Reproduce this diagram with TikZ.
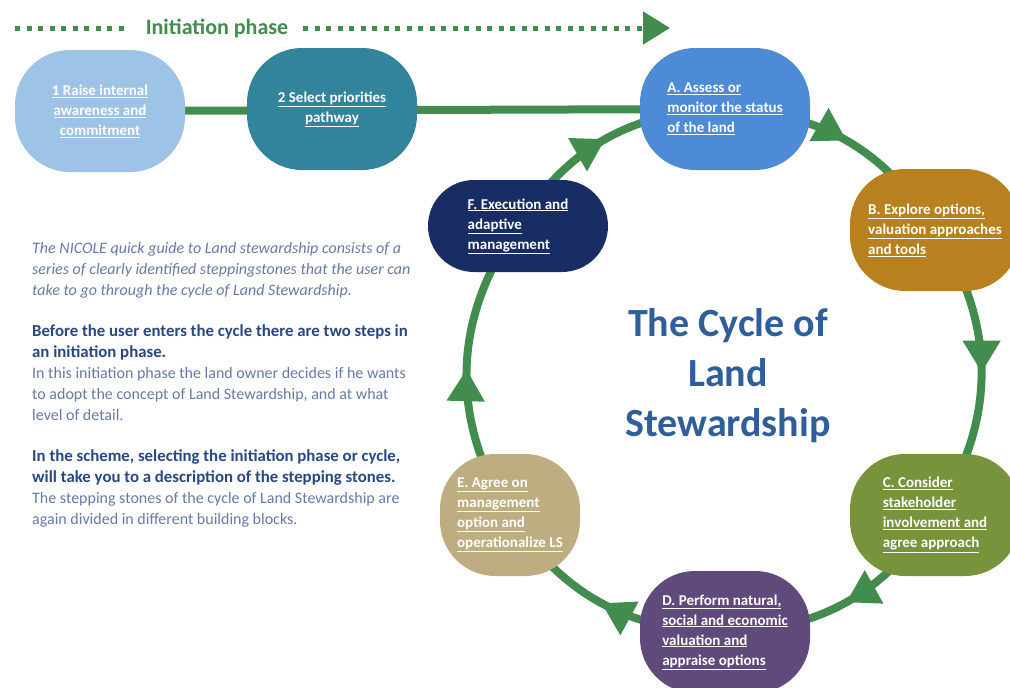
\documentclass[tikz,border=0pt]{standalone}
\usepackage{fontspec}
\setmainfont{Carlito}
\usetikzlibrary{positioning,arrows.meta,decorations.markings,backgrounds}

\definecolor{cyclegreen}{RGB}{66,140,78}
\definecolor{stoneone}{RGB}{157,195,230}
\definecolor{stonetwo}{RGB}{49,132,155}
\definecolor{stoneA}{RGB}{77,139,214}
\definecolor{stoneB}{RGB}{184,128,30}
\definecolor{stoneC}{RGB}{119,147,60}
\definecolor{stoneD}{RGB}{96,73,123}
\definecolor{stoneE}{RGB}{190,173,128}
\definecolor{stoneF}{RGB}{23,45,100}
\definecolor{titleblue}{RGB}{47,95,155}
\definecolor{guidegray}{RGB}{105,122,162}
\definecolor{guideblue}{RGB}{40,72,130}

\newcommand{\lnk}[1]{\underline{#1}}

\tikzset{
  stone/.style={rounded corners=55pt, minimum width=170pt, minimum height=122pt,
                inner sep=0pt, text=white, align=left,
                font=\fontsize{15}{20}\selectfont\bfseries},
  ring/.style={draw=cyclegreen, line width=8pt, postaction={decorate},
               decoration={markings, mark=at position 0.5 with
               {\arrow{Triangle[length=32pt,width=36pt]}}}},
  link/.style={draw=cyclegreen, line width=8pt},
  dots/.style={draw=cyclegreen, line width=5pt, dash pattern=on 5pt off 6.5pt}
}

\begin{document}
\begin{tikzpicture}[x=1pt,y=1pt]
  \clip (0,0) rectangle (1010,-688);

  \coordinate (dotsL) at (15,-28);
  \coordinate (dotsR) at (670,-28);
  \node[text=cyclegreen, inner sep=0pt, font=\fontsize{22}{24}\selectfont\bfseries] (phase) at (217,-28) {Initiation phase};
  \draw[dots] (dotsL) -- ([xshift=-20pt]phase.west);
  \draw[dots, -{Triangle[length=27pt,width=32pt,fill=cyclegreen]}] ([xshift=15pt]phase.east) -- (dotsR);

  \node[stone, fill=stoneone, align=center] (n1) at (100,-111) {\lnk{1 Raise internal}\\ \lnk{awareness and}\\ \lnk{commitment}};
  \node[stone, fill=stonetwo, align=center] (n2) at (332,-109) {\lnk{2 Select priorities}\\ \lnk{pathway}};

  \node[stone, fill=stoneA] (nA) at (725,-109) {\lnk{A. Assess or}\\ \lnk{monitor the status}\\ \lnk{of the land}};
  \node[stone, fill=stoneB] (nB) at (935,-230) {\lnk{B. Explore options,}\\ \lnk{valuation approaches}\\ \lnk{and tools}};
  \node[stone, fill=stoneC] (nC) at (935,-515) {\lnk{C. Consider}\\ \lnk{stakeholder}\\ \lnk{involvement and}\\ \lnk{agree approach}};
  \node[stone, fill=stoneD] (nD) at (725,-632) {\lnk{D. Perform natural,}\\ \lnk{social and economic}\\ \lnk{valuation and}\\ \lnk{appraise options}};
  \node[stone, fill=stoneE, minimum width=140pt] (nE) at (510,-515) {\lnk{E. Agree on}\\ \lnk{management}\\ \lnk{option and}\\ \lnk{operationalize LS}};
  \node[stone, fill=stoneF, minimum width=180pt, minimum height=92pt, rounded corners=46pt] (nF) at (518,-226) {\lnk{F. Execution and}\\ \lnk{adaptive}\\ \lnk{management}};

  \begin{pgfonlayer}{background}
    \draw[link] (n1) -- (nA);
    \draw[ring] (nA.center) to[bend left=28] (nB.center);
    \draw[ring] (nB.center) to[bend left=34] (nC.center);
    \draw[ring] (nC.center) to[bend left=28] (nD.center);
    \draw[ring] (nD.center) to[bend left=28] (nE.center);
    \draw[ring] (nE.center) to[bend left=34] (nF.center);
    \draw[ring] (nF.center) to[bend left=28] (nA.center);
  \end{pgfonlayer}

  \node[text=titleblue, align=center, font=\fontsize{40}{50}\selectfont\bfseries] (title) at (728,-376) {The Cycle of\\ Land\\ Stewardship};

  \node[anchor=north west, inner sep=0pt, align=left, text=guidegray,
        font=\fontsize{16}{21}\selectfont] (guide) at (32,-242)
    {{\itshape The NICOLE quick guide to Land stewardship consists of a}\\
     {\itshape series of clearly identified steppingstones that the user can}\\
     {\itshape take to go through the cycle of Land Stewardship.}\\[20pt]
     {\fontsize{16.8}{21}\selectfont\bfseries\color{guideblue}Before the user enters the cycle there are two steps in}\\
     {\fontsize{16.8}{21}\selectfont\bfseries\color{guideblue}an initiation phase.}\\
     In this initiation phase the land owner decides if he wants\\
     to adopt the concept of Land Stewardship, and at what\\
     level of detail.\\[20pt]
     {\fontsize{16.8}{21}\selectfont\bfseries\color{guideblue}In the scheme, selecting the initiation phase or cycle,}\\
     {\fontsize{16.8}{21}\selectfont\bfseries\color{guideblue}will take you to a description of the stepping stones.}\\
     The stepping stones of the cycle of Land Stewardship are\\
     again divided in different building blocks.};
\end{tikzpicture}
\end{document}
